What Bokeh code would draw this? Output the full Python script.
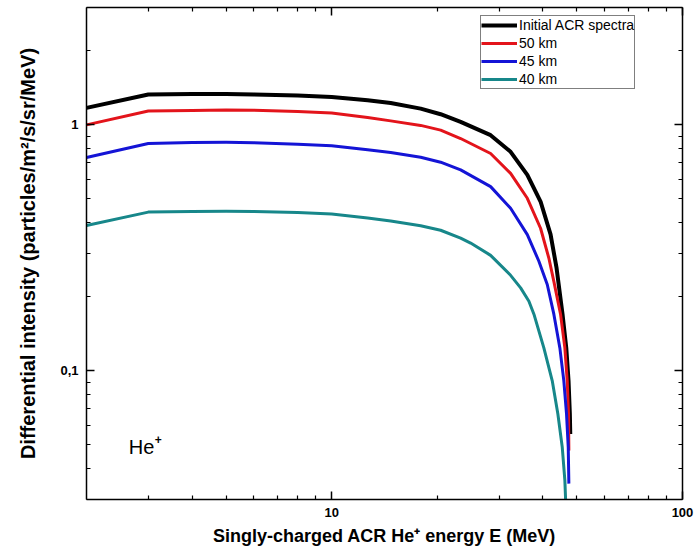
from bokeh.plotting import figure
from bokeh.models import (LogAxis, FixedTicker, CustomJSTickFormatter, Legend,
                          LegendItem, Label, Range1d)
from bokeh.embed import file_html
from bokeh.resources import INLINE

# Series (energy in MeV, intensity in particles/m2/s/sr/MeV)
initial_e = [2, 3, 4, 5, 6, 8, 10, 12.66, 14.73, 17.93, 20.44, 23.31, 28.38, 32.36,
             36.11, 39.39, 42.06, 43.75, 45.50, 46.63, 47.33, 47.74, 47.87]
initial_i = [1.172, 1.329, 1.335, 1.335, 1.329, 1.316, 1.298, 1.259, 1.228, 1.164,
             1.105, 1.028, 0.908, 0.777, 0.626, 0.488, 0.359, 0.262, 0.170, 0.124,
             0.0911, 0.0668, 0.0554]

km50_e = [2, 3, 4, 5, 6, 8, 10, 12.66, 14.73, 17.93, 20.44, 23.31, 28.38, 32.36,
          36.11, 39.39, 41.59, 42.98, 44.91, 46.20, 46.93, 47.33, 47.43]
km50_i = [1.0, 1.139, 1.145, 1.150, 1.147, 1.134, 1.118, 1.072, 1.038, 0.995,
          0.952, 0.880, 0.765, 0.635, 0.503, 0.380, 0.2875, 0.231, 0.170, 0.124,
          0.0911, 0.0668, 0.0474]

km45_e = [2, 3, 4, 5, 6, 8, 10, 12.66, 14.73, 17.93, 20.44, 23.31, 28.38, 32.36,
          36.11, 38.96, 41.16, 42.98, 44.71, 45.89, 46.71, 47.24, 47.43]
km45_i = [0.737, 0.840, 0.848, 0.849, 0.846, 0.834, 0.822, 0.792, 0.772, 0.738,
          0.705, 0.656, 0.561, 0.458, 0.358, 0.279, 0.2244, 0.170, 0.124, 0.0911,
          0.0668, 0.0489, 0.0348]

km40_e = [2, 3, 4, 5, 6, 8, 10, 12.66, 14.73, 17.93, 20.44, 23.31, 24.89, 28.38,
          32.36, 34.56, 36.49, 37.71, 40.25, 42.53, 44.13, 45.42, 46.20, 46.50]
km40_i = [0.390, 0.442, 0.445, 0.446, 0.445, 0.440, 0.434, 0.418, 0.407, 0.389,
          0.373, 0.3465, 0.3307, 0.2948, 0.2446, 0.2174, 0.192, 0.170, 0.124, 0.0911,
          0.0668, 0.0489, 0.0359, 0.0284]

series_names = ["Initial ACR spectra", "50 km", "45 km", "40 km"]
colors = ["#000000", "#e3141b", "#1414d6", "#17878a"]

x_major = [10, 100]
x_minor = [3, 4, 5, 6, 7, 8, 9, 20, 30, 40, 50, 60, 70, 80, 90]
y_major = [0.1, 1]
y_minor = [0.03, 0.04, 0.05, 0.06, 0.07, 0.08, 0.09,
           0.2, 0.3, 0.4, 0.5, 0.6, 0.7, 0.8, 0.9, 2, 3]

x_title = "Singly-charged ACR He\u207a energy E (MeV)"
y_title = "Differential intensity (particles/m\u00b2/s/sr/MeV)"

p = figure(width=694, height=551, x_axis_type="log", y_axis_type="log",
           x_range=Range1d(2, 100), y_range=Range1d(0.03, 3),
           output_backend="svg", toolbar_location=None,
           min_border_left=86, min_border_right=12, min_border_top=7,
           min_border_bottom=52)
p.outline_line_color = None
p.xgrid.visible = False
p.ygrid.visible = False
p.background_fill_color = "white"

fmt_x = CustomJSTickFormatter(code="return String(Math.round(tick));")
fmt_y = CustomJSTickFormatter(code="if (Math.abs(tick-0.1)<1e-9) {return '0,1';} return String(Math.round(tick));")
blank = CustomJSTickFormatter(code="return '';")

def style(ax):
    ax.axis_line_color = "black"
    ax.axis_line_width = 1.5
    ax.major_tick_in = 8
    ax.major_tick_out = 0
    ax.minor_tick_in = 4
    ax.minor_tick_out = 0
    ax.major_tick_line_width = 1.5
    ax.minor_tick_line_width = 1.2
    ax.major_label_text_font = "Liberation Sans"
    ax.major_label_text_font_style = "bold"
    ax.major_label_text_font_size = "13px"
    ax.major_label_text_color = "black"
    ax.axis_label_text_font = "Liberation Sans"
    ax.axis_label_text_font_style = "bold"
    ax.axis_label_text_color = "black"

xax = p.xaxis[0]
xax.ticker = FixedTicker(ticks=x_major, minor_ticks=x_minor)
xax.formatter = fmt_x
style(xax)
xax.major_label_standoff = 8
xax.axis_label = x_title
xax.axis_label_text_font_size = "18px"
xax.axis_label_standoff = 6

yax = p.yaxis[0]
yax.ticker = FixedTicker(ticks=y_major, minor_ticks=y_minor)
yax.formatter = fmt_y
style(yax)
yax.major_label_standoff = 8
yax.axis_label = y_title
yax.axis_label_text_font_size = "20px"
yax.axis_label_standoff = 18

top = LogAxis(ticker=FixedTicker(ticks=x_major, minor_ticks=x_minor), formatter=blank)
style(top)
top.major_label_standoff = 0
top.major_label_text_font_size = "0px"
p.add_layout(top, "above")

right = LogAxis(ticker=FixedTicker(ticks=y_major, minor_ticks=y_minor), formatter=blank)
style(right)
right.major_label_standoff = 0
right.major_label_text_font_size = "0px"
p.add_layout(right, "right")

datasets = [
    (initial_e, initial_i, 4.0),
    (km50_e, km50_i, 3.0),
    (km45_e, km45_i, 3.0),
    (km40_e, km40_i, 3.0),
]
items = []
for (xs, ys, w), name, c in zip(datasets, series_names, colors):
    r = p.line(xs, ys, line_color=c, line_width=w, line_join="round")
    items.append(LegendItem(label=name, renderers=[r]))

legend = Legend(items=items, location=(394, 410))
legend.label_text_font = "Liberation Sans"
legend.label_text_font_size = "14px"
legend.label_text_color = "black"
legend.label_standoff = 2
legend.glyph_width = 36
legend.glyph_height = 18
legend.label_height = 18
legend.spacing = 0
legend.padding = 0
legend.margin = 0
legend.border_line_color = "black"
legend.border_line_width = 1
legend.background_fill_alpha = 1
p.add_layout(legend)

# "He+" annotation inside the plot
p.add_layout(Label(x=2.64, y=0.0444, text="He", text_font="Liberation Sans",
                   text_font_size="20px", text_color="black"))
p.add_layout(Label(x=3.13, y=0.0502, text="+", text_font="Liberation Sans",
                   text_font_size="12px", text_color="black", text_font_style="bold"))

open("out.html", "w").write(file_html(p, INLINE))
